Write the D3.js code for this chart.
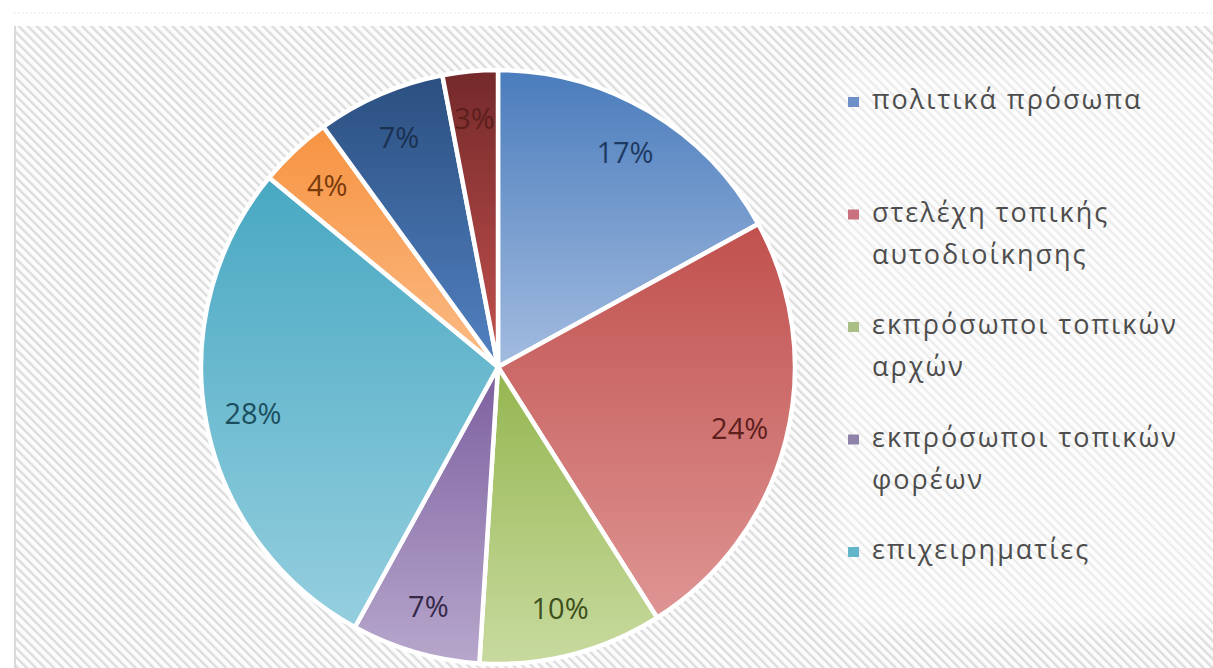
<!DOCTYPE html>
<html>
<head>
<meta charset="utf-8">
<script src="https://cdn.jsdelivr.net/npm/d3@7"></script>
<style>
  html, body { margin: 0; padding: 0; background: #fff; }
  svg { display: block; }
</style>
</head>
<body>
<svg width="1213" height="668"></svg>
<script>
// data, clockwise from 12 o'clock
const categories = ["πολιτικά πρόσωπα", "στελέχη τοπικής αυτοδιοίκησης", "εκπρόσωποι τοπικών αρχών",
    "εκπρόσωποι τοπικών φορέων", "επιχειρηματίες", "κατηγορία 6", "κατηγορία 7", "κατηγορία 8"]
const values = [17, 24, 10, 7, 28, 4, 7, 3]
const legendShown = 5   // legend is clipped after the 5th entry in the original

const topColors    = ["#4a7cbc", "#c0504d", "#94b64f", "#7c5f9f", "#48a8c2", "#f79341", "#2b4f80", "#74292a"]
const bottomColors = ["#a3bce0", "#de9594", "#c8da9f", "#b7a7cc", "#95cfdf", "#fbbb86", "#5282c2", "#c4524f"]
const labelColors  = ["#1f3a62", "#5e1f1d", "#3d4f1c", "#352848", "#1c4f5d", "#7a3a0a", "#1b3150", "#5c1f1e"]
const legendColors = ["#6f8fc8", "#c8707e", "#a9bf86", "#8e82a8", "#62b5c9"]

const svg = d3.select("svg")
const W = +svg.attr("width"), H = +svg.attr("height")
const defs = svg.append("defs")

// hatched background
const pat = defs.append("pattern")
    .attr("id", "hatch")
    .attr("patternUnits", "userSpaceOnUse")
    .attr("width", 6.4).attr("height", 6.4)
    .attr("patternTransform", "rotate(-45)")
pat.append("rect").attr("width", 6.4).attr("height", 6.4).attr("fill", "#fcfcfc")
pat.append("rect").attr("width", 2.3).attr("height", 6.4).attr("fill", "#dcdcdc")

const soft = defs.append("filter").attr("id", "soft")
    .attr("x", "-10%").attr("y", "-10%").attr("width", "120%").attr("height", "120%")
soft.append("feGaussianBlur").attr("stdDeviation", 10)

svg.append("line")
    .attr("x1", 14).attr("x2", W).attr("y1", 13).attr("y2", 13)
    .attr("stroke", "#e8e8e8").attr("stroke-dasharray", "2,2")

svg.append("rect")
    .attr("x", 14).attr("y", 26).attr("width", W - 14).attr("height", H - 26)
    .attr("fill", "url(#hatch)")
svg.append("line")
    .attr("x1", 15).attr("x2", 15).attr("y1", 26).attr("y2", H)
    .attr("stroke", "#dadada").attr("stroke-width", 2)

// lighter area behind the legend
svg.append("rect")
    .attr("x", 835).attr("y", 65).attr("width", W - 820).attr("height", 560)
    .attr("fill", "#fff").attr("opacity", 0.45)
    .attr("filter", "url(#soft)")

// gradients
values.forEach((v, i) => {
    const g = defs.append("linearGradient")
        .attr("id", "grad" + i)
        .attr("x1", 0).attr("y1", 0).attr("x2", 0).attr("y2", 1)
    g.append("stop").attr("offset", "0%").attr("stop-color", topColors[i])
    g.append("stop").attr("offset", "100%").attr("stop-color", bottomColors[i])
})

const cx = 498, cy = 367, R = 297
const pie = d3.pie().sort(null).value(d => d)
const arcs = pie(values)
const arc = d3.arc().innerRadius(0).outerRadius(R)
const labelArc = d3.arc().innerRadius(R * 0.84).outerRadius(R * 0.84)

const chart = svg.append("g").attr("transform", `translate(${cx},${cy})`)

chart.selectAll(".slice")
    .data(arcs)
    .enter().append("path")
    .attr("class", "slice")
    .attr("d", arc)
    .attr("fill", (d, i) => `url(#grad${i})`)
    .attr("stroke", "#fff")
    .attr("stroke-width", 4.5)
    .attr("stroke-linejoin", "round")

chart.selectAll(".lbl")
    .data(arcs)
    .enter().append("text")
    .attr("class", "lbl")
    .attr("transform", d => `translate(${labelArc.centroid(d)})`)
    .attr("text-anchor", "middle")
    .attr("dy", "0.36em")
    .attr("fill", (d, i) => labelColors[i])
    .style("font-family", "'Open Sans', sans-serif")
    .style("font-size", "29px")
    .text(d => d3.format(".0%")(d.data / 100))

// legend
const legend = svg.append("g").attr("transform", "translate(848,0)")
const maxW = 335
const items = legend.selectAll(".item")
    .data(categories.slice(0, legendShown))
    .enter().append("g")
    .attr("class", "item")
    .attr("transform", (d, i) => `translate(0,${109 + i * 112.5})`)

items.append("rect")
    .attr("x", 0).attr("y", -12).attr("width", 11).attr("height", 10)
    .attr("fill", (d, i) => legendColors[i])

items.each(function(d) {
    const g = d3.select(this)
    const t = g.append("text")
        .attr("x", 24)
        .attr("fill", "#4d4d4d")
        .style("font-family", "'Open Sans', sans-serif")
        .style("font-size", "27px")
        .style("letter-spacing", "2px")
    const words = d.split(" ")
    let line = []
    let ts = t.append("tspan").attr("x", 24).attr("dy", 0)
    words.forEach(w => {
        line.push(w)
        ts.text(line.join(" "))
        if (ts.node().getComputedTextLength() > maxW && line.length > 1) {
            line.pop()
            ts.text(line.join(" "))
            line = [w]
            ts = t.append("tspan").attr("x", 24).attr("dy", 42).text(w)
        }
    })
})
</script>
</body>
</html>
